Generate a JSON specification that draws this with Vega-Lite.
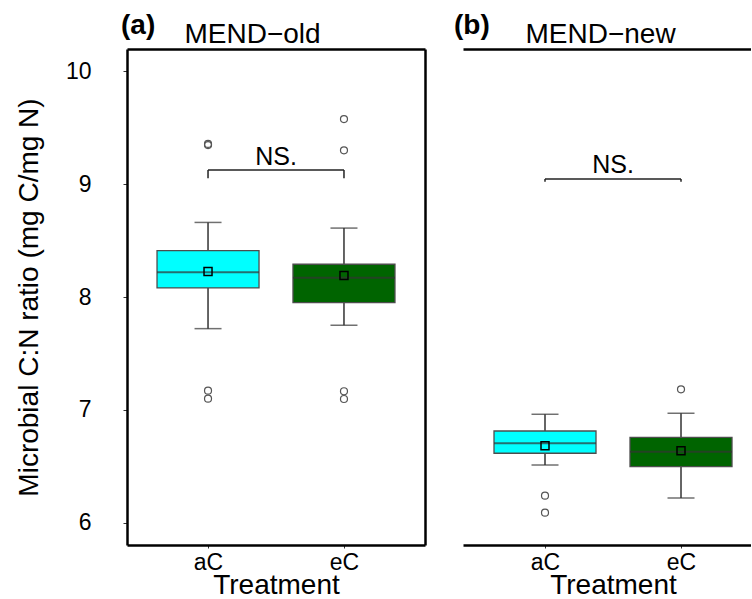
{
  "$schema": "https://vega.github.io/schema/vega-lite/v6.json",
  "background": "white",
  "padding": {"left": 15, "top": 12, "right": 0, "bottom": 0},
  "config": {
    "font": "Liberation Sans",
    "view": {"stroke": null},
    "axis": {"grid": false, "domainColor": "black", "domainWidth": 2.5, "tickColor": "#333333", "labelColor": "black", "titleColor": "black", "titleFontWeight": "normal", "labelFont": "Liberation Sans", "titleFont": "Liberation Sans"},
    "title": {"font": "Liberation Sans", "color": "black"}
  },
  "datasets": {
    "box": [
      {"panel": "a", "treatment": "aC", "lower": 7.72, "q1": 8.08, "median": 8.22, "q3": 8.41, "upper": 8.66, "mean": 8.225},
      {"panel": "a", "treatment": "eC", "lower": 7.75, "q1": 7.95, "median": 8.17, "q3": 8.29, "upper": 8.61, "mean": 8.19},
      {"panel": "b", "treatment": "aC", "lower": 6.513, "q1": 6.617, "median": 6.705, "q3": 6.814, "upper": 6.962, "mean": 6.684},
      {"panel": "b", "treatment": "eC", "lower": 6.221, "q1": 6.498, "median": 6.631, "q3": 6.758, "upper": 6.971, "mean": 6.64}
    ],
    "outliers": [
      {"panel": "a", "treatment": "aC", "value": 7.171},
      {"panel": "a", "treatment": "aC", "value": 7.1},
      {"panel": "a", "treatment": "aC", "value": 9.345},
      {"panel": "a", "treatment": "aC", "value": 9.355},
      {"panel": "a", "treatment": "eC", "value": 7.166},
      {"panel": "a", "treatment": "eC", "value": 7.097},
      {"panel": "a", "treatment": "eC", "value": 9.298},
      {"panel": "a", "treatment": "eC", "value": 9.575},
      {"panel": "b", "treatment": "aC", "value": 6.242},
      {"panel": "b", "treatment": "aC", "value": 6.091},
      {"panel": "b", "treatment": "eC", "value": 7.183}
    ],
    "bracket": [
      {"panel": "a", "from": "aC", "to": "eC", "bar": 9.124, "leg": 9.05, "textY": 9.168, "label": "NS."},
      {"panel": "b", "from": "aC", "to": "eC", "bar": 9.044, "leg": 9.02, "textY": 9.1, "label": "NS."}
    ],
    "legs": [
      {"panel": "a", "treatment": "aC", "bar": 9.124, "leg": 9.05},
      {"panel": "a", "treatment": "eC", "bar": 9.124, "leg": 9.05},
      {"panel": "b", "treatment": "aC", "bar": 9.044, "leg": 9.02},
      {"panel": "b", "treatment": "eC", "bar": 9.044, "leg": 9.02}
    ]
  },
  "resolve": {"scale": {"x": "independent", "y": "independent"}},
  "spacing": 29,
  "hconcat": [
    {
      "width": 298,
      "height": 496,
      "title": {"text": "(a)", "anchor": "start", "frame": "group", "fontSize": 28, "fontWeight": "bold", "dx": -6, "dy": 24},
      "layer": [
        {
          "data": {"name": "box"},
          "transform": [{"filter": "datum.panel === 'a'"}],
          "mark": {"type": "rule", "color": "#333333", "strokeWidth": 1.5},
          "encoding": {
            "x": {"field": "treatment", "type": "nominal", "scale": {"type": "point", "domain": ["aC", "eC"], "padding": 0.596},
                  "axis": {"orient": "bottom", "title": "Treatment", "labelAngle": 0, "labelFontSize": 23, "titleFontSize": 28, "tickSize": 3, "labelPadding": 3, "titlePadding": -3}},
            "y": {"field": "lower", "type": "quantitative", "scale": {"domain": [5.805, 10.195], "nice": false, "zero": false},
                  "axis": {"orient": "left", "values": [6, 7, 8, 9, 10], "title": "Microbial C:N ratio (mg C/mg N)", "labelFontSize": 23, "titleFontSize": 28, "tickSize": 4, "labelPadding": 32, "titlePadding": 22}},
            "y2": {"field": "upper"}
          }
        },
        {
          "data": {"name": "box"},
          "transform": [{"filter": "datum.panel === 'a'"}],
          "mark": {"type": "tick", "color": "#333333", "size": 27, "thickness": 1.5},
          "encoding": {
            "x": {"field": "treatment", "type": "nominal", "axis": null},
            "y": {"field": "upper", "type": "quantitative", "axis": null}
          }
        },
        {
          "data": {"name": "box"},
          "transform": [{"filter": "datum.panel === 'a'"}],
          "mark": {"type": "tick", "color": "#333333", "size": 27, "thickness": 1.5},
          "encoding": {
            "x": {"field": "treatment", "type": "nominal", "axis": null},
            "y": {"field": "lower", "type": "quantitative", "axis": null}
          }
        },
        {
          "data": {"name": "box"},
          "transform": [{"filter": "datum.panel === 'a'"}],
          "mark": {"type": "bar", "width": 102, "stroke": "#4d4d4d", "strokeWidth": 1.3, "opacity": 1},
          "encoding": {
            "x": {"field": "treatment", "type": "nominal", "scale": {"type": "point"}, "axis": null},
            "y": {"field": "q1", "type": "quantitative", "axis": null},
            "y2": {"field": "q3"},
            "fill": {"field": "treatment", "type": "nominal", "scale": {"domain": ["aC", "eC"], "range": ["#00FFFF", "#006400"]}, "legend": null}
          }
        },
        {
          "data": {"name": "box"},
          "transform": [{"filter": "datum.panel === 'a'"}],
          "mark": {"type": "tick", "color": "#333333", "size": 102, "thickness": 2},
          "encoding": {
            "x": {"field": "treatment", "type": "nominal", "axis": null},
            "y": {"field": "median", "type": "quantitative", "axis": null}
          }
        },
        {
          "data": {"name": "box"},
          "transform": [{"filter": "datum.panel === 'a'"}],
          "mark": {"type": "point", "shape": "square", "filled": false, "stroke": "black", "strokeWidth": 1.5, "size": 64, "opacity": 1},
          "encoding": {
            "x": {"field": "treatment", "type": "nominal", "axis": null},
            "y": {"field": "mean", "type": "quantitative", "axis": null}
          }
        },
        {
          "data": {"name": "outliers"},
          "transform": [{"filter": "datum.panel === 'a'"}],
          "mark": {"type": "point", "shape": "circle", "filled": false, "stroke": "#555555", "strokeWidth": 1.2, "size": 49, "opacity": 1},
          "encoding": {
            "x": {"field": "treatment", "type": "nominal", "axis": null},
            "y": {"field": "value", "type": "quantitative", "axis": null}
          }
        },
        {
          "data": {"name": "bracket"},
          "transform": [{"filter": "datum.panel === 'a'"}],
          "mark": {"type": "rule", "color": "#222222", "strokeWidth": 1.5},
          "encoding": {
            "x": {"field": "from", "type": "nominal",
                  "axis": {"orient": "top", "labels": false, "ticks": false, "title": "MEND\u2212old", "titleFontSize": 28, "titleAnchor": "start", "titleAlign": "left", "titleX": 57, "titleY": -7, "titleBaseline": "alphabetic"}},
            "x2": {"field": "to"},
            "y": {"field": "bar", "type": "quantitative", "axis": null}
          }
        },
        {
          "data": {"name": "legs"},
          "transform": [{"filter": "datum.panel === 'a'"}],
          "mark": {"type": "rule", "color": "#222222", "strokeWidth": 1.5},
          "encoding": {
            "x": {"field": "treatment", "type": "nominal", "axis": null},
            "y": {"field": "leg", "type": "quantitative", "axis": null},
            "y2": {"field": "bar"}
          }
        },
        {
          "data": {"name": "bracket"},
          "transform": [{"filter": "datum.panel === 'a'"}],
          "mark": {"type": "text", "fontSize": 25, "dx": 68, "align": "center", "baseline": "alphabetic", "color": "black"},
          "encoding": {
            "x": {"field": "from", "type": "nominal", "axis": null},
            "y": {"field": "textY", "type": "quantitative",
                  "axis": {"orient": "right", "labels": false, "ticks": false, "title": null}},
            "text": {"field": "label"}
          }
        }
      ]
    },
    {
      "width": 288,
      "height": 496,
      "title": {"text": "(b)", "anchor": "start", "frame": "group", "fontSize": 28, "fontWeight": "bold", "dx": -9, "dy": 24},
      "layer": [
        {
          "data": {"name": "box"},
          "transform": [{"filter": "datum.panel === 'b'"}],
          "mark": {"type": "rule", "color": "#333333", "strokeWidth": 1.5},
          "encoding": {
            "x": {"field": "treatment", "type": "nominal", "scale": {"type": "point", "domain": ["aC", "eC"], "padding": 0.5588, "align": 0.5395},
                  "axis": {"orient": "bottom", "title": "Treatment", "labelAngle": 0, "labelFontSize": 23, "titleFontSize": 28, "tickSize": 3, "labelPadding": 3, "titlePadding": -3, "titleX": 150, "titleAnchor": "middle"}},
            "y": {"field": "lower", "type": "quantitative", "scale": {"domain": [5.805, 10.195], "nice": false, "zero": false},
                  "axis": {"orient": "left", "values": [6, 7, 8, 9, 10], "title": null, "labels": false, "tickSize": 4}},
            "y2": {"field": "upper"}
          }
        },
        {
          "data": {"name": "box"},
          "transform": [{"filter": "datum.panel === 'b'"}],
          "mark": {"type": "tick", "color": "#333333", "size": 27, "thickness": 1.5},
          "encoding": {
            "x": {"field": "treatment", "type": "nominal", "axis": null},
            "y": {"field": "upper", "type": "quantitative", "axis": null}
          }
        },
        {
          "data": {"name": "box"},
          "transform": [{"filter": "datum.panel === 'b'"}],
          "mark": {"type": "tick", "color": "#333333", "size": 27, "thickness": 1.5},
          "encoding": {
            "x": {"field": "treatment", "type": "nominal", "axis": null},
            "y": {"field": "lower", "type": "quantitative", "axis": null}
          }
        },
        {
          "data": {"name": "box"},
          "transform": [{"filter": "datum.panel === 'b'"}],
          "mark": {"type": "bar", "width": 102, "stroke": "#4d4d4d", "strokeWidth": 1.3, "opacity": 1},
          "encoding": {
            "x": {"field": "treatment", "type": "nominal", "scale": {"type": "point"}, "axis": null},
            "y": {"field": "q1", "type": "quantitative", "axis": null},
            "y2": {"field": "q3"},
            "fill": {"field": "treatment", "type": "nominal", "scale": {"domain": ["aC", "eC"], "range": ["#00FFFF", "#006400"]}, "legend": null}
          }
        },
        {
          "data": {"name": "box"},
          "transform": [{"filter": "datum.panel === 'b'"}],
          "mark": {"type": "tick", "color": "#333333", "size": 102, "thickness": 2},
          "encoding": {
            "x": {"field": "treatment", "type": "nominal", "axis": null},
            "y": {"field": "median", "type": "quantitative", "axis": null}
          }
        },
        {
          "data": {"name": "box"},
          "transform": [{"filter": "datum.panel === 'b'"}],
          "mark": {"type": "point", "shape": "square", "filled": false, "stroke": "black", "strokeWidth": 1.5, "size": 64, "opacity": 1},
          "encoding": {
            "x": {"field": "treatment", "type": "nominal", "axis": null},
            "y": {"field": "mean", "type": "quantitative", "axis": null}
          }
        },
        {
          "data": {"name": "outliers"},
          "transform": [{"filter": "datum.panel === 'b'"}],
          "mark": {"type": "point", "shape": "circle", "filled": false, "stroke": "#555555", "strokeWidth": 1.2, "size": 49, "opacity": 1},
          "encoding": {
            "x": {"field": "treatment", "type": "nominal", "axis": null},
            "y": {"field": "value", "type": "quantitative", "axis": null}
          }
        },
        {
          "data": {"name": "bracket"},
          "transform": [{"filter": "datum.panel === 'b'"}],
          "mark": {"type": "rule", "color": "#222222", "strokeWidth": 1.5},
          "encoding": {
            "x": {"field": "from", "type": "nominal",
                  "axis": {"orient": "top", "labels": false, "ticks": false, "title": "MEND\u2212new", "titleFontSize": 28, "titleAnchor": "start", "titleAlign": "left", "titleX": 62, "titleY": -7, "titleBaseline": "alphabetic"}},
            "x2": {"field": "to"},
            "y": {"field": "bar", "type": "quantitative", "axis": null}
          }
        },
        {
          "data": {"name": "legs"},
          "transform": [{"filter": "datum.panel === 'b'"}],
          "mark": {"type": "rule", "color": "#222222", "strokeWidth": 1.5},
          "encoding": {
            "x": {"field": "treatment", "type": "nominal", "axis": null},
            "y": {"field": "leg", "type": "quantitative", "axis": null},
            "y2": {"field": "bar"}
          }
        },
        {
          "data": {"name": "bracket"},
          "transform": [{"filter": "datum.panel === 'b'"}],
          "mark": {"type": "text", "fontSize": 25, "dx": 68, "align": "center", "baseline": "alphabetic", "color": "black"},
          "encoding": {
            "x": {"field": "from", "type": "nominal", "axis": null},
            "y": {"field": "textY", "type": "quantitative", "axis": null},
            "text": {"field": "label"}
          }
        }
      ]
    }
  ]
}
